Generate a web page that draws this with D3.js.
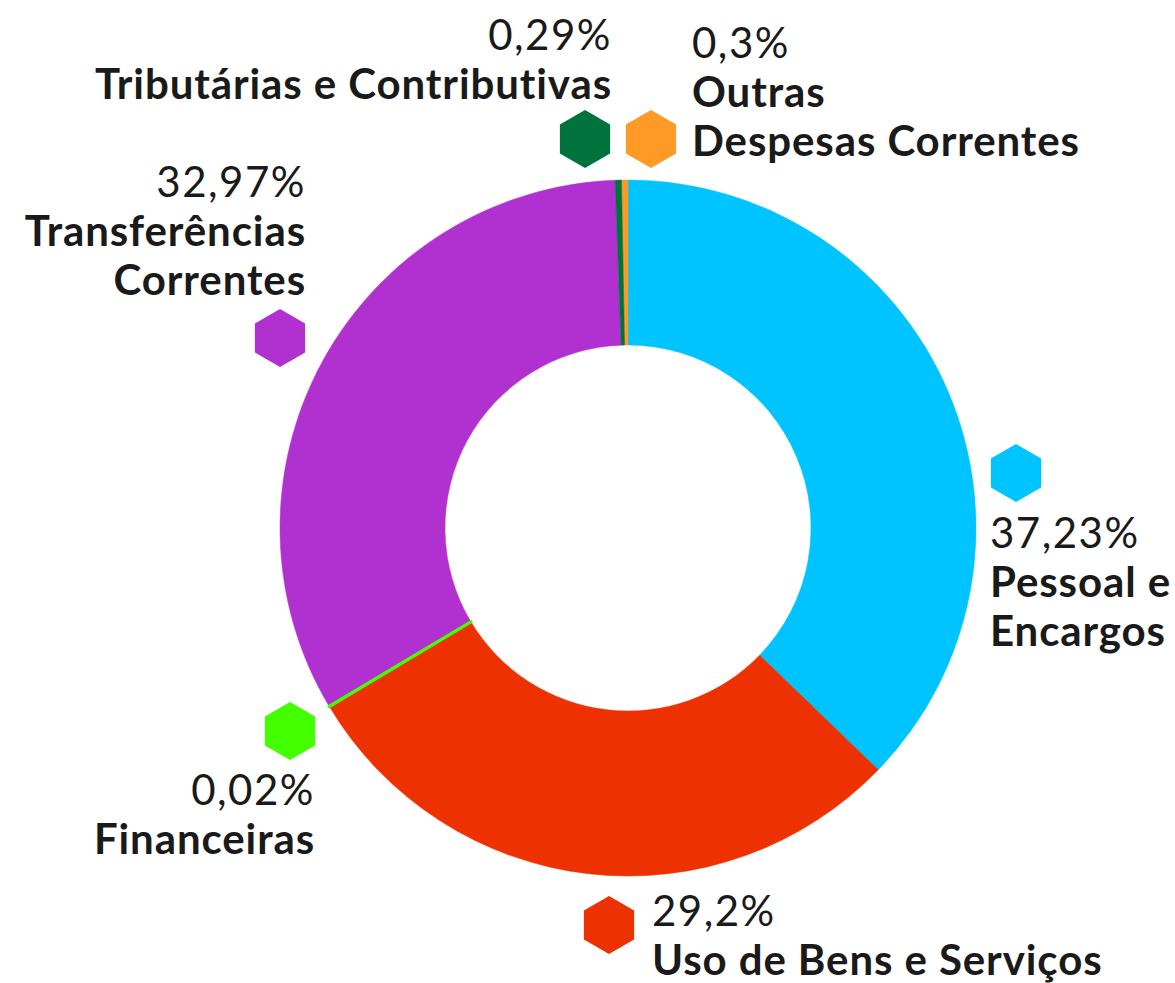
<!DOCTYPE html>
<html>
<head>
<meta charset="utf-8">
<script src="https://cdn.jsdelivr.net/npm/d3@7"></script>
<style>
  body { margin: 0; background: #fff; }
  svg text { font-family: Lato, "Noto Sans", sans-serif; fill: #1a1a1a; }
</style>
</head>
<body>
<script>
// dados
var categorias = ["Pessoal e Encargos", "Uso de Bens e Serviços", "Financeiras",
  "Transferências Correntes", "Tributárias e Contributivas", "Outras Despesas Correntes"];
var percentuais = [37.23, 29.2, 0.02, 32.97, 0.29, 0.3];
var rotulosPct = ["37,23%", "29,2%", "0,02%", "32,97%", "0,29%", "0,3%"];
var linhasNome = [["Pessoal e", "Encargos"], ["Uso de Bens e Serviços"], ["Financeiras"],
  ["Transferências", "Correntes"], ["Tributárias e Contributivas"], ["Outras", "Despesas Correntes"]];
var cores = ["#00c4ff", "#ed3100", "#44ff00", "#b030d0", "#00733d", "#ff9a26"];

// layout dos rotulos (hexagono + texto)
var layout = [
  {hx: 1016, hy: 473, tx: 990, ty: 548, anchor: "start"},
  {hx: 609, hy: 925, tx: 652, ty: 926, anchor: "start"},
  {hx: 290, hy: 731, tx: 315, ty: 805, anchor: "end"},
  {hx: 280, hy: 338, tx: 306, ty: 197, anchor: "end"},
  {hx: 585, hy: 139, tx: 612, ty: 50, anchor: "end"},
  {hx: 651, hy: 139, tx: 692, ty: 58, anchor: "start"}
];

var width = 1175, height = 983;
var cx = 628, cy = 528, outerR = 348, innerR = 183;
var lineH = 49;

var svg = d3.select("body").append("svg")
  .attr("width", width)
  .attr("height", height);

var dados = categorias.map(function(c, i){
  return {nome: c, valor: percentuais[i], pct: rotulosPct[i], linhas: linhasNome[i], cor: cores[i], pos: layout[i]};
});

var pie = d3.pie().sort(null).value(function(d){ return d.valor; });
var arc = d3.arc().innerRadius(innerR).outerRadius(outerR);

var g = svg.append("g")
  .attr("transform", "translate(" + cx + "," + cy + ")");

// fatias pequenas desenhadas por cima
var fatias = pie(dados).sort(function(a, b){ return b.value - a.value; });

g.selectAll("path")
  .data(fatias)
  .enter()
  .append("path")
  .attr("d", arc)
  .attr("fill", function(d){ return d.data.cor; })
  .attr("stroke", function(d){ return d.data.cor; })
  .attr("stroke-width", function(d){ return d.data.valor < 0.1 ? 3 : 0.5; });

// hexagono (ponta para cima)
var hexR = 29;
function hexPath(x, y){
  var pts = d3.range(6).map(function(k){
    var a = Math.PI / 3 * k - Math.PI / 2;
    return [x + hexR * Math.cos(a), y + hexR * Math.sin(a)];
  });
  return "M" + pts.join("L") + "Z";
}

var rot = svg.append("g").attr("class", "rotulos")
  .selectAll("g")
  .data(dados)
  .enter()
  .append("g");

rot.append("path")
  .attr("d", function(d){ return hexPath(d.pos.hx, d.pos.hy); })
  .attr("fill", function(d){ return d.cor; });

rot.append("text")
  .attr("x", function(d){ return d.pos.tx; })
  .attr("y", function(d){ return d.pos.ty; })
  .attr("text-anchor", function(d){ return d.pos.anchor; })
  .style("font-size", "42px")
  .style("letter-spacing", "1.5px")
  .style("font-weight", 400)
  .text(function(d){ return d.pct; });

rot.each(function(d){
  var el = d3.select(this);
  d.linhas.forEach(function(l, i){
    el.append("text")
      .attr("x", d.pos.tx)
      .attr("y", d.pos.ty + lineH * (i + 1))
      .attr("text-anchor", d.pos.anchor)
      .style("font-size", "42px")
      .style("letter-spacing", "0.9px")
      .style("font-weight", 700)
      .text(l);
  });
});
</script>
</body>
</html>
